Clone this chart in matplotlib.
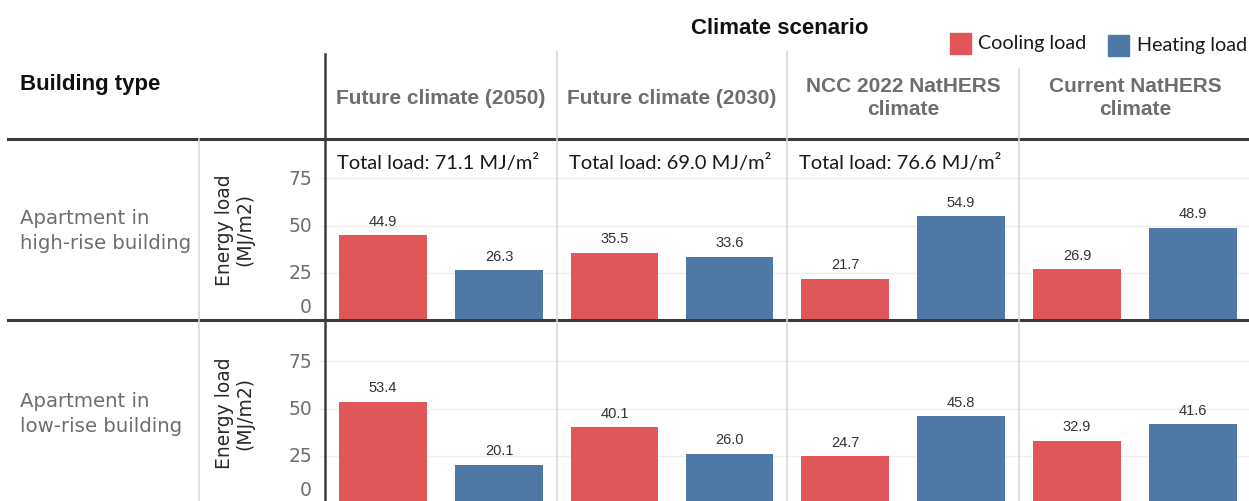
import matplotlib
matplotlib.use("Agg")
import matplotlib.pyplot as plt
from matplotlib.patches import Rectangle
from matplotlib.lines import Line2D
import matplotlib.transforms as mtransforms

# ---- data ----
scenarios = ["Future climate (2050)", "Future climate (2030)",
             "NCC 2022 NatHERS\nclimate", "Current NatHERS\nclimate"]
buildings = ["Apartment in\nhigh-rise building", "Apartment in\nlow-rise building"]
cooling_high = [44.9, 35.5, 21.7, 26.9]
heating_high = [26.3, 33.6, 54.9, 48.9]
cooling_low = [53.4, 40.1, 24.7, 32.9]
heating_low = [20.1, 26.0, 45.8, 41.6]
total_high = [71.1, 69.0, 76.6, None]
yticks = [0, 25, 50, 75]
series_names = ["Cooling load", "Heating load"]

# ---- style ----
RED = "#E15759"
BLUE = "#4E79A7"
GRID = "#EFEFEF"
DIV = "#D9D9D9"
DARK = "#3A3A3A"
GRAYTXT = "#6E6E6E"
SANS = "DejaVu Sans"

W, H = 1249, 502
fig = plt.figure(figsize=(W / 100, H / 100), dpi=100)
fig.patch.set_facecolor("white")

def fx(x):
    return x / W

def fy(y):
    return 1 - y / H

col_edges = [325, 557, 787, 1019, 1251]
row_edges = [(140, 321, 95.8), (322, 504, 96.3)]
row_label_y = [231, 414]

rows_data = [(cooling_high, heating_high), (cooling_low, heating_low)]

for r, (ytop, ybot, ymax) in enumerate(row_edges):
    cool, heat = rows_data[r]
    for c in range(4):
        x0, x1 = col_edges[c], col_edges[c + 1]
        ax = fig.add_axes([fx(x0), fy(ybot), (x1 - x0) / W, (ybot - ytop) / H])
        ax.set_xlim(-0.5, 1.5)
        ax.set_ylim(0, ymax)
        for v in yticks[1:]:
            ax.axhline(v, color=GRID, lw=1, zorder=0)
        b1 = ax.bar([0], [cool[c]], width=0.76, color=RED, zorder=2)
        b2 = ax.bar([1], [heat[c]], width=0.76, color=BLUE, zorder=2)
        for b, v in ((b1[0], cool[c]), (b2[0], heat[c])):
            ax.annotate(f"{v:.1f}", (b.get_x() + b.get_width() / 2, v),
                        xytext=(0, 5.5), textcoords="offset points",
                        ha="center", va="bottom", fontsize=10.5,
                        family="Liberation Sans", color="#333333")
        ax.set_xticks([])
        ax.set_yticks([])
        for s in ax.spines.values():
            s.set_visible(False)
        ax.patch.set_alpha(0)
        if r == 0 and total_high[c] is not None:
            ax.text(12 / (x1 - x0), 1 - 23 / (ybot - ytop),
                    f"Total load: {total_high[c]:.1f} MJ/m²",
                    transform=ax.transAxes, ha="left", va="center",
                    fontsize=14.5, family="Lato", color="#1a1a1a")
        if c == 0:
            trans = mtransforms.blended_transform_factory(ax.transAxes, ax.transData)
            for v in yticks:
                off = mtransforms.ScaledTranslation(0, 13 / 100 if v == 0 else 0,
                                                    fig.dpi_scale_trans)
                ax.text(-13 / (x1 - x0), v, str(v), transform=trans + off,
                        ha="right", va="center", fontsize=13.5,
                        family=SANS, color=GRAYTXT)
                if v > 0:
                    ax.plot([-6 / (x1 - x0), 0], [v, v], transform=trans,
                            color=GRID, lw=1, clip_on=False)
    # row label
    fig.text(fx(20), fy(row_label_y[r]), buildings[r],
             ha="left", va="center", multialignment="left", fontsize=14.2,
             family=SANS, color=GRAYTXT, linespacing=1.45)
    fig.text(fx(235), fy(230 if r == 0 else 413), "Energy load\n(MJ/m2)",
             rotation=90, ha="center", va="center", multialignment="center",
             fontsize=13.5, family=SANS, color="#2a2a2a", linespacing=1.1)

# ---- lines ----
def fline(xs, ys, **kw):
    fig.add_artist(Line2D([fx(v) for v in xs], [fy(v) for v in ys], **kw))

fline([8, W], [140, 140], color=DARK, lw=2.2)
fline([8, W], [321, 321], color=DARK, lw=2.2)
fline([325, 325], [55, H], color=DARK, lw=1.8)
fline([199, 199], [140, H], color=DIV, lw=1.2)
fline([557, 557], [53, H], color=DIV, lw=1.2)
fline([787, 787], [53, H], color=DIV, lw=1.2)
fline([1019, 1019], [70, H], color=DIV, lw=1.2)

# ---- header ----
fig.text(fx(20), fy(85), "Building type", ha="left", va="center",
         fontsize=16, fontweight="bold", family="Liberation Sans", color="#111111")
fig.text(fx(780), fy(28), "Climate scenario", ha="center", va="center",
         fontsize=16, fontweight="bold", family="Liberation Sans", color="#111111")
for c, name in enumerate(scenarios):
    xc = (col_edges[c] + col_edges[c + 1]) / 2
    fig.text(fx(xc), fy(98), name, ha="center", va="center",
             multialignment="center", fontsize=15, fontweight="bold",
             family="Liberation Sans", color=GRAYTXT, linespacing=1.32)

# legend
leg_items = [(950, 34, RED, 978), (1108, 36, BLUE, 1137)]
for (lx, ly, colr, tx), name in zip(leg_items, series_names):
    fig.add_artist(Rectangle((fx(lx), fy(ly + 21)), 21 / W, 21 / H,
                             transform=fig.transFigure, color=colr))
    fig.text(fx(tx), fy(ly + 10), name, ha="left", va="center",
             fontsize=14.2, family="Lato", color="#1a1a1a")

fig.savefig("out.png", dpi=100)
